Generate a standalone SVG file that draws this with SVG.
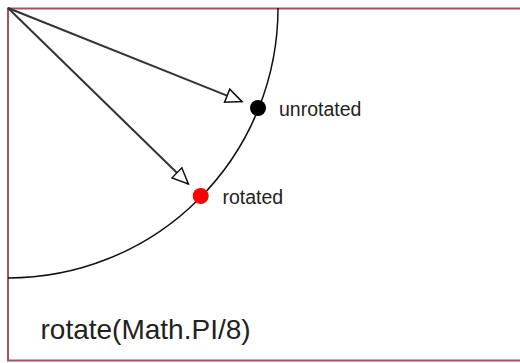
<svg xmlns="http://www.w3.org/2000/svg" width="520" height="363" viewBox="0 0 520 363">
  <style>
    .frame { fill: none; stroke: #a8505c; stroke-width: 2; }
    .arc { fill: none; stroke: #111; stroke-width: 1.5; }
    .arrow { stroke: #333; stroke-width: 2; fill: none; marker-end: url(#open); }
    .lbl { font-family: "Liberation Sans", Arial, sans-serif; font-size: 19.5px; fill: #222; }
    .title { font-family: "Liberation Sans", Arial, sans-serif; font-size: 28px; fill: #222; }
  </style>
  <defs>
    <marker id="open" markerUnits="userSpaceOnUse" markerWidth="24" markerHeight="20" viewBox="-18 -10 20 20" refX="0" refY="0" orient="auto">
      <path d="M0,0 L-16,-7 L-16,7 Z" fill="#fff" stroke="#111" stroke-width="1.5" stroke-linejoin="miter"/>
    </marker>
  </defs>
  <rect x="0" y="0" width="520" height="363" fill="#fff"/>
  <rect class="frame" x="8" y="8.5" width="530" height="352"/>
  <path id="circle" class="arc" d="M278,8 A270,270 0 0 1 8,278"/>
  <g id="connectors">
    <line class="arrow" x1="8" y1="8" x2="242" y2="101.6"/>
    <line class="arrow" x1="8" y1="8" x2="188.4" y2="184"/>
  </g>
  <g id="unrotated">
    <circle cx="258" cy="108" r="8" fill="#000"/>
    <text class="lbl" x="279" y="116">unrotated</text>
  </g>
  <g id="rotated">
    <circle cx="200.7" cy="196" r="8" fill="#f00"/>
    <text class="lbl" x="222.5" y="203.5">rotated</text>
  </g>
  <g id="caption">
    <text class="title" x="40.5" y="339">rotate(Math.PI/8)</text>
  </g>
</svg>
